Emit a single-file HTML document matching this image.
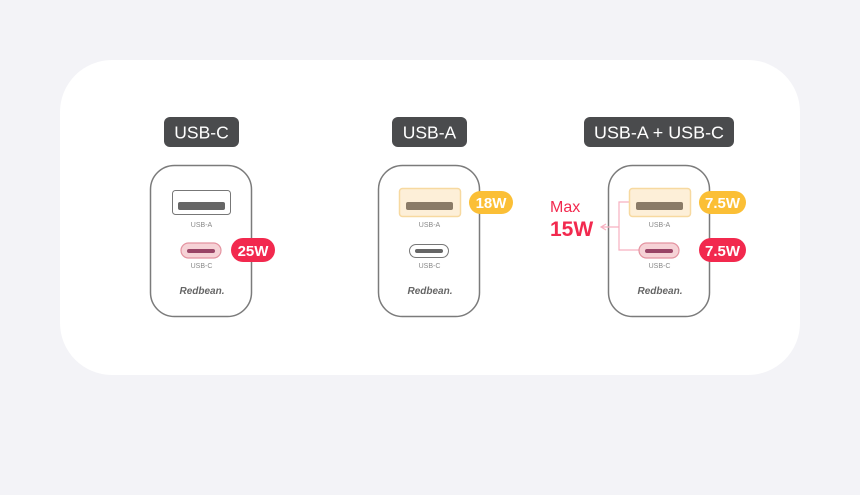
<!DOCTYPE html>
<html><head><style>
html,body{margin:0;padding:0;background:#f3f3f7;width:860px;height:495px;overflow:hidden}
svg{display:block;font-family:"Liberation Sans",sans-serif}
</style></head><body>
<svg width="860" height="495" viewBox="0 0 860 495">
<rect x="0" y="0" width="860" height="495" fill="#f3f3f7"/>
<rect x="60" y="60" width="740" height="315" rx="52" fill="#ffffff"/>

<rect x="164" y="117" width="75" height="30" rx="6" fill="#4a4b4d"/>
<text x="201.5" y="138.5" fill="#fff" font-size="17.5" text-anchor="middle">USB-C</text>
<rect x="392" y="117" width="75" height="30" rx="6" fill="#4a4b4d"/>
<text x="429.5" y="138.5" fill="#fff" font-size="17.5" text-anchor="middle">USB-A</text>
<rect x="584" y="117" width="150" height="30" rx="6" fill="#4a4b4d"/>
<text x="659" y="138.5" fill="#fff" font-size="17.5" text-anchor="middle" textLength="130" lengthAdjust="spacingAndGlyphs">USB-A + USB-C</text>

<!-- Charger 1 -->
<rect x="150.5" y="165.5" width="101" height="151" rx="24" fill="#fff" stroke="#7b7b7b" stroke-width="1.5"/>
<rect x="172.5" y="190.5" width="58" height="24" rx="3" fill="#fff" stroke="#777" stroke-width="1"/>
<rect x="178" y="202" width="47" height="8" rx="2" fill="#666"/>
<text x="201.5" y="227" fill="#888" font-size="7" text-anchor="middle">USB-A</text>
<rect x="181" y="243" width="40" height="15" rx="7.5" fill="#f6d2d6" stroke="#e493a0" stroke-width="1.2"/>
<rect x="187" y="249" width="28" height="4" rx="2" fill="#946"/>
<text x="201.5" y="268" fill="#888" font-size="7" text-anchor="middle">USB-C</text>
<text x="202" y="294" fill="#666" font-size="10" font-style="italic" font-weight="bold" text-anchor="middle">Redbean.</text>
<rect x="231" y="238" width="44" height="24" rx="12" fill="#f2294e"/>
<text x="253" y="256" fill="#fff" font-size="15" font-weight="bold" text-anchor="middle">25W</text>

<!-- Charger 2 -->
<rect x="378.5" y="165.5" width="101" height="151" rx="24" fill="#fff" stroke="#7b7b7b" stroke-width="1.5"/>
<rect x="399.5" y="188.5" width="61" height="28" rx="3" fill="#fdefd8" stroke="#f7d9a0" stroke-width="1.5"/>
<rect x="406" y="202" width="47" height="8" rx="2" fill="#8a7b68"/>
<text x="429.5" y="227" fill="#888" font-size="7" text-anchor="middle">USB-A</text>
<rect x="409.5" y="244.5" width="39" height="13" rx="6.5" fill="#fff" stroke="#777" stroke-width="1"/>
<rect x="415" y="249" width="28" height="4" rx="2" fill="#666"/>
<text x="429.5" y="268" fill="#888" font-size="7" text-anchor="middle">USB-C</text>
<text x="430" y="294" fill="#666" font-size="10" font-style="italic" font-weight="bold" text-anchor="middle">Redbean.</text>
<rect x="469" y="191" width="44" height="23" rx="11.5" fill="#fbbf36"/>
<text x="491" y="208" fill="#fff" font-size="15" font-weight="bold" text-anchor="middle">18W</text>

<!-- Charger 3 -->
<rect x="608.5" y="165.5" width="101" height="151" rx="24" fill="#fff" stroke="#7b7b7b" stroke-width="1.5"/>
<path d="M630 202 H619 V250 H640 M619 227 H602 M606 224 L601 227 L606 230" fill="none" stroke="#f7b0c0" stroke-width="1.2"/>
<rect x="629.5" y="188.5" width="61" height="28" rx="3" fill="#fdefd8" stroke="#f7d9a0" stroke-width="1.5"/>
<rect x="636" y="202" width="47" height="8" rx="2" fill="#8a7b68"/>
<text x="659.5" y="227" fill="#888" font-size="7" text-anchor="middle">USB-A</text>
<rect x="639" y="243" width="40" height="15" rx="7.5" fill="#f6d2d6" stroke="#e493a0" stroke-width="1.2"/>
<rect x="645" y="249" width="28" height="4" rx="2" fill="#946"/>
<text x="659.5" y="268" fill="#888" font-size="7" text-anchor="middle">USB-C</text>
<text x="660" y="294" fill="#666" font-size="10" font-style="italic" font-weight="bold" text-anchor="middle">Redbean.</text>
<rect x="699" y="191" width="47" height="23" rx="11.5" fill="#fbbf36"/>
<text x="722.5" y="208" fill="#fff" font-size="15" font-weight="bold" text-anchor="middle">7.5W</text>
<rect x="699" y="238" width="47" height="24" rx="12" fill="#f2294e"/>
<text x="722.5" y="256" fill="#fff" font-size="15" font-weight="bold" text-anchor="middle">7.5W</text>
<text x="550" y="212" fill="#f2294e" font-size="16">Max</text>
<text x="550" y="236" fill="#f2294e" font-size="21" font-weight="bold">15W</text>
</svg>
</body></html>
